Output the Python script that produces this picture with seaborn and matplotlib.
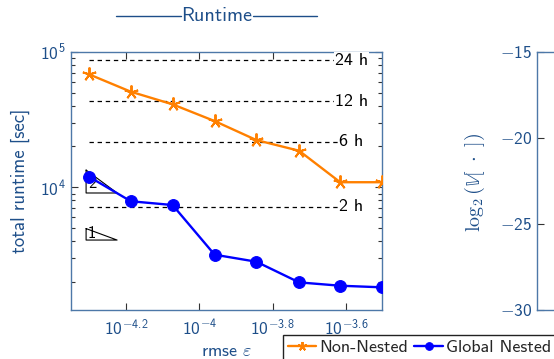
import numpy as np
import matplotlib
matplotlib.use("Agg")
import matplotlib.pyplot as plt
from matplotlib.lines import Line2D
from matplotlib.ticker import FixedLocator, FixedFormatter, NullLocator, LogLocator, NullFormatter
import seaborn as sns

# values
rmse          = [5.0e-5, 6.5e-5, 8.45e-5, 1.10e-4, 1.43e-4, 1.87e-4, 2.42e-4, 3.14e-4]
non_nested    = [68100, 50700, 40900, 30800, 22300, 18600, 10900, 10900]
global_nested = [11970, 7890, 7400, 3185, 2826, 1990, 1880, 1830]

hour_marks  = [24, 12, 6, 2]
x_tick_exp  = [-4.2, -4.0, -3.8, -3.6]
x_tick_lbl  = ['$10^{-4.2}$', '$10^{-4}$', '$10^{-3.8}$', '$10^{-3.6}$']
v_ticks     = [-30, -25, -20, -15]
v_tick_lbl  = ['$-30$', '$-25$', '$-20$', '$-15$']

BLUE_TXT = '#1d4e89'
SPINE    = '#4d78a8'
ORANGE   = '#ff8000'
BLUE     = '#0000ff'

sns.set_theme(style='ticks')
plt.rcParams['font.family'] = ['cmss10', 'DejaVu Sans']
plt.rcParams['mathtext.fontset'] = 'custom'
for k in ['rm', 'it', 'bf', 'sf']:
    plt.rcParams[f'mathtext.{k}'] = 'cmss10'

fig = plt.figure(figsize=(5.54, 3.59), dpi=100)
ax  = fig.add_axes([0.1276, 0.1365, 0.562, 0.7195])
ax2 = fig.add_axes([0.9688, 0.1365, 0.5, 0.7195])

sns.lineplot(x=rmse, y=non_nested, ax=ax, color=ORANGE, marker=(5, 2, 0), markersize=10,
             markeredgecolor=ORANGE, markeredgewidth=1.4, linewidth=1.7,
             label='Non-Nested', zorder=4)
sns.lineplot(x=rmse, y=global_nested, ax=ax, color=BLUE, marker='o', markersize=8.5,
             markeredgecolor=BLUE, linewidth=1.7, label='Global Nested', zorder=4)
ax.set_xscale('log')
ax.set_yscale('log')
ax.set_xlim(10**-4.351, 10**-3.502)
ax.set_ylim(1245, 1e5)

# hour reference lines
x_lab = 10**-3.586
for h in hour_marks:
    sec = h * 3600
    ax.plot([rmse[0], x_lab], [sec, sec], ls=(0, (3.5, 3)), color='black', lw=0.9, zorder=2)
    ax.text(x_lab, sec, f'{h} h', ha='center', va='center', fontsize=13, color='black',
            bbox=dict(fc='white', ec='none', pad=0.5), zorder=3)

# slope triangles
tx0, tx1 = 10**-4.309, 10**-4.2245
for y_bot, slope, frac in [(10**3.958, 2, 0.4), (10**3.611, 1, 0.6)]:
    y_top = y_bot * (tx1 / tx0) ** slope
    ax.plot([tx0, tx0, tx1, tx0], [y_top, y_bot, y_bot, y_top], color='black', lw=0.8, zorder=3)
    ax.text(tx0 * 1.012, y_bot * (y_top / y_bot) ** frac, str(slope), ha='left', va='center',
            fontsize=12, color='black', zorder=3)

ax.xaxis.set_major_locator(FixedLocator([10**e for e in x_tick_exp]))
ax.xaxis.set_major_formatter(FixedFormatter(x_tick_lbl))
ax.xaxis.set_minor_locator(NullLocator())
ax.yaxis.set_major_locator(FixedLocator([1e4, 1e5]))
ax.yaxis.set_major_formatter(FixedFormatter(['$10^{4}$', '$10^{5}$']))
ax.yaxis.set_minor_locator(LogLocator(base=10, subs=np.arange(2, 10)))
ax.yaxis.set_minor_formatter(NullFormatter())

for a in (ax, ax2):
    for s in a.spines.values():
        s.set_color(SPINE)
        s.set_linewidth(1.0)
        s.set_visible(True)
    a.tick_params(which='both', direction='in', top=True, right=True, color='#333333',
                  labelcolor=BLUE_TXT, labelsize=12.5)
    a.tick_params(which='major', length=5, width=0.8)
    a.tick_params(which='minor', length=3, width=0.8)
ax.tick_params(axis='x', pad=6)

ax.set_xlabel('rmse $\\varepsilon$', fontsize=13, color=BLUE_TXT, labelpad=4,
              math_fontfamily='cm')
ax.set_ylabel('total runtime [sec]', fontsize=13.5, color=BLUE_TXT, labelpad=7)

ax2.set_ylim(-30, -15)
ax2.set_yticks(v_ticks)
ax2.set_yticklabels(v_tick_lbl)
ax2.set_xticks([])
fig.text(475 / 554, 1 - 182 / 359, r'$\log_2(\mathbb{V}[\ \cdot\ ])$', rotation=90,
         ha='center', va='center', fontsize=14.5, color=BLUE_TXT, math_fontfamily='cm')

# title with rules drawn either side
fig.text(217 / 554, 1 - 16 / 359, 'Runtime', ha='center', va='center',
         fontsize=14.5, color=BLUE_TXT)
for x0, x1 in [(116, 181), (253, 317)]:
    fig.add_artist(Line2D([x0 / 554, x1 / 554], [1 - 15.7 / 359] * 2,
                          color=BLUE_TXT, lw=1.0, transform=fig.transFigure))

handles, labels = ax.get_legend_handles_labels()
ax.get_legend().remove()
fig.legend(handles, labels, loc='upper left', bbox_to_anchor=(283 / 554, 1 - 335 / 359),
           ncol=2, fontsize=13, frameon=True, fancybox=False, edgecolor='#222222',
           framealpha=1, borderaxespad=0, borderpad=0.25, handlelength=1.6,
           handletextpad=0.15, columnspacing=0.35, markerscale=0.65)

fig.savefig('out.png', dpi=100)
